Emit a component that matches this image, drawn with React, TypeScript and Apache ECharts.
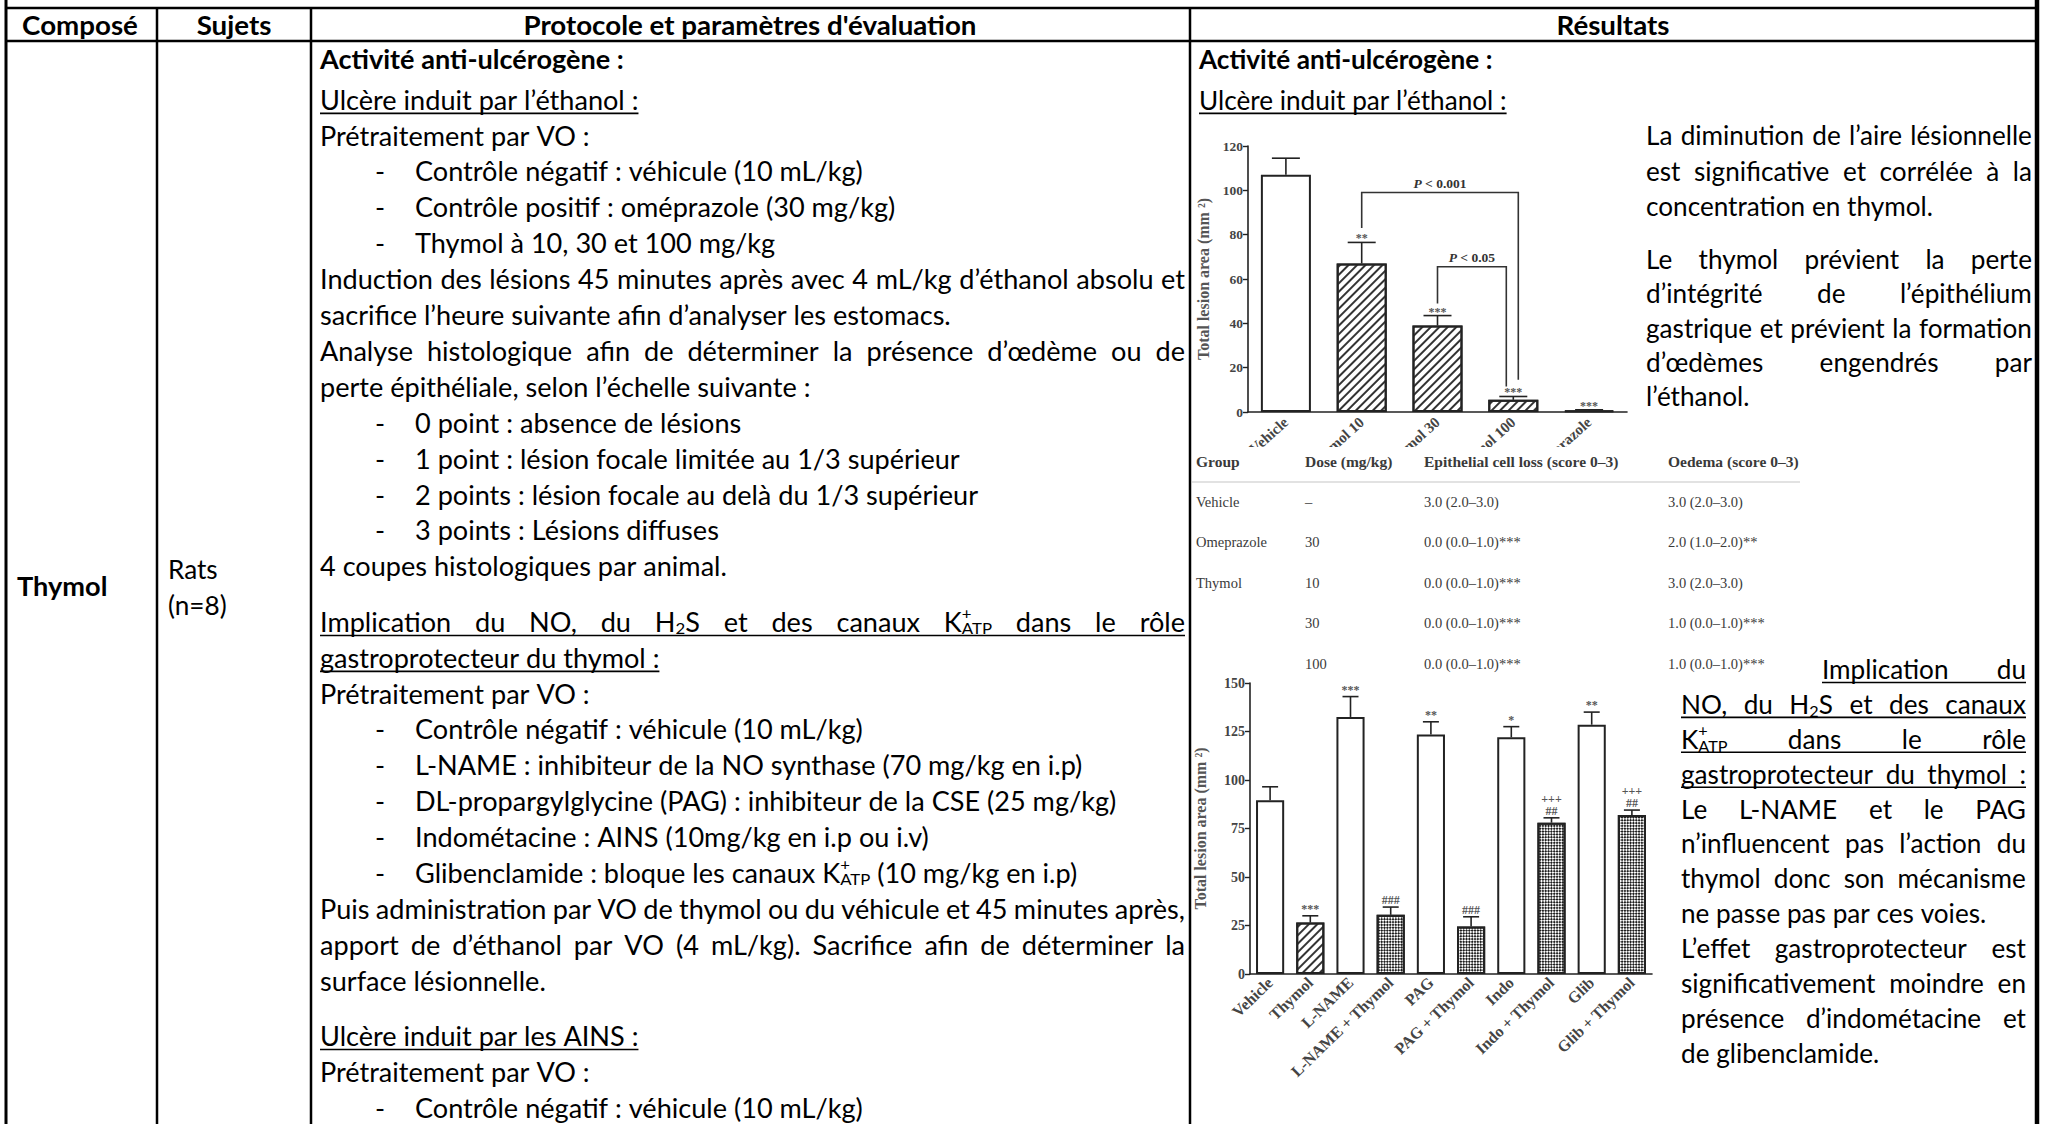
import React, { useEffect, useRef } from 'react';
import * as echarts from 'echarts';

// ---------------- Data ----------------
const ethanolGroups = ['Vehicle', 'Thymol 10', 'Thymol 30', 'Thymol 100', 'Omeprazole'];
const ethanolArea = [107, 67, 39, 5.5, 0.7];
const ethanolErr = [114.5, 76.5, 43.5, 7, 1];
const ethanolSig = ['', '**', '***', '***', '***'];
const ethanolPattern = ['none', 'hatch', 'hatch', 'hatch', 'hatch'];

const bracketFrom = [1, 2];
const bracketTo = [3, 3];
const bracketTop = [99, 65.5];
const bracketLeftEnd = [83, 49];
const bracketRightEnd = [14.5, 11.5];
const bracketLabel = ['0.001', '0.05'];

const ulcerGroups = ['Vehicle', 'Thymol', 'L-NAME', 'L-NAME + Thymol', 'PAG', 'PAG + Thymol', 'Indo', 'Indo + Thymol', 'Glib', 'Glib + Thymol'];
const ulcerArea = [89.5, 26.5, 132.5, 30.5, 123.5, 24.5, 122, 78, 128.5, 82];
const ulcerErr = [96.5, 30, 143, 34.5, 130, 29.5, 127.5, 80.5, 135, 84.5];
const ulcerSig = ['', '***', '***', '###', '**', '###', '*', '##', '**', '##'];
const ulcerSig2 = ['', '', '', '', '', '', '', '+++', '', '+++'];
const ulcerPattern = ['none', 'hatch', 'none', 'check', 'none', 'check', 'none', 'check', 'none', 'check'];

const ethanol120Ticks = { min: 0, max: 120, interval: 20 };
const ulcerTicks = { min: 0, max: 150, interval: 25 };

const tableHeader = ['Group', 'Dose (mg/kg)', 'Epithelial cell loss (score 0–3)', 'Oedema (score 0–3)'];
const tableGroup = ['Vehicle', 'Omeprazole', 'Thymol', '', ''];
const tableDose = ['–', '30', '10', '30', '100'];
const tableEpith = ['3.0 (2.0–3.0)', '0.0 (0.0–1.0)***', '0.0 (0.0–1.0)***', '0.0 (0.0–1.0)***', '0.0 (0.0–1.0)***'];
const tableOedema = ['3.0 (2.0–3.0)', '2.0 (1.0–2.0)**', '3.0 (2.0–3.0)', '1.0 (0.0–1.0)***', '1.0 (0.0–1.0)***'];

const headers = ['Composé', 'Sujets', "Protocole et paramètres d'évaluation", 'Résultats'];

type L = { t: string; b?: number; u?: number; j?: number; li?: number };
const protocolBlock1: L[] = [
  { t: 'Activité anti-ulcérogène :', b: 1 },
  { t: 'Ulcère induit par l’éthanol :', u: 1 },
  { t: 'Prétraitement par VO :' },
  { t: 'Contrôle négatif : véhicule (10 mL/kg)', li: 1 },
  { t: 'Contrôle positif : oméprazole (30 mg/kg)', li: 1 },
  { t: 'Thymol à 10, 30 et 100 mg/kg', li: 1 },
  { t: 'Induction des lésions 45 minutes après avec 4 mL/kg d’éthanol absolu et', j: 1 },
  { t: 'sacrifice l’heure suivante afin d’analyser les estomacs.' },
  { t: 'Analyse histologique afin de déterminer la présence d’œdème ou de', j: 1 },
  { t: 'perte épithéliale, selon l’échelle suivante :' },
  { t: '0 point : absence de lésions', li: 1 },
  { t: '1 point : lésion focale limitée au 1/3 supérieur', li: 1 },
  { t: '2 points : lésion focale au delà du 1/3 supérieur', li: 1 },
  { t: '3 points : Lésions diffuses', li: 1 },
  { t: '4 coupes histologiques par animal.' },
];
const protocolBlock2: L[] = [
  { t: 'Implication du NO, du H_{2}S et des canaux K^{+}_{ATP} dans le rôle', u: 1, j: 1 },
  { t: 'gastroprotecteur du thymol :', u: 1 },
  { t: 'Prétraitement par VO :' },
  { t: 'Contrôle négatif : véhicule (10 mL/kg)', li: 1 },
  { t: 'L-NAME : inhibiteur de la NO synthase (70 mg/kg en i.p)', li: 1 },
  { t: 'DL-propargylglycine (PAG) : inhibiteur de la CSE (25 mg/kg)', li: 1 },
  { t: 'Indométacine : AINS (10mg/kg en i.p ou i.v)', li: 1 },
  { t: 'Glibenclamide : bloque les canaux K^{+}_{ATP} (10 mg/kg en i.p)', li: 1 },
  { t: 'Puis administration par VO de thymol ou du véhicule et 45 minutes après,', j: 1 },
  { t: 'apport de d’éthanol par VO (4 mL/kg). Sacrifice afin de déterminer la', j: 1 },
  { t: 'surface lésionnelle.' },
];
const protocolBlock3: L[] = [
  { t: 'Ulcère induit par les AINS :', u: 1 },
  { t: 'Prétraitement par VO :' },
  { t: 'Contrôle négatif : véhicule (10 mL/kg)', li: 1 },
];
const resultsHead: L[] = [
  { t: 'Activité anti-ulcérogène :', b: 1 },
  { t: 'Ulcère induit par l’éthanol :', u: 1 },
];
const resultsPara1: L[] = [
  { t: 'La diminution de l’aire lésionnelle', j: 1 },
  { t: 'est significative et corrélée à la', j: 1 },
  { t: 'concentration en thymol.' },
];
const resultsPara2: L[] = [
  { t: 'Le thymol prévient la perte', j: 1 },
  { t: 'd’intégrité de l’épithélium', j: 1 },
  { t: 'gastrique et prévient la formation', j: 1 },
  { t: 'd’œdèmes engendrés par', j: 1 },
  { t: 'l’éthanol.' },
];
const resultsPara3: L[] = [
  { t: 'Implication du', u: 1, j: 1 },
  { t: 'NO, du H_{2}S et des canaux', u: 1, j: 1 },
  { t: 'K^{+}_{ATP} dans le rôle', u: 1, j: 1 },
  { t: 'gastroprotecteur du thymol :', u: 1, j: 1 },
  { t: 'Le L-NAME et le PAG', j: 1 },
  { t: 'n’influencent pas l’action du', j: 1 },
  { t: 'thymol donc son mécanisme', j: 1 },
  { t: 'ne passe pas par ces voies.' },
  { t: 'L’effet gastroprotecteur est', j: 1 },
  { t: 'significativement moindre en', j: 1 },
  { t: 'présence d’indométacine et', j: 1 },
  { t: 'de glibenclamide.' },
];

// ---------------- Layout helpers ----------------
const FONT = 'Lato';
const SERIF = '"Liberation Serif", "Times New Roman", serif';
const SIZE = 26;

let _ctx: CanvasRenderingContext2D | null = null;
function tw(text: string, size: number, bold?: boolean) {
  if (!_ctx) _ctx = document.createElement('canvas').getContext('2d');
  _ctx!.font = `${bold ? 'bold ' : ''}${size}px ${FONT}`;
  return _ctx!.measureText(text).width;
}

function parseWord(w: string) {
  const segs: { t: string; k: string }[] = [];
  w.split(/(\^\{[^}]*\}|_\{[^}]*\})/).filter(Boolean).forEach((p) => {
    if (p.startsWith('^{')) segs.push({ t: p.slice(2, -1), k: 'sup' });
    else if (p.startsWith('_{')) segs.push({ t: p.slice(2, -1), k: 'sub' });
    else segs.push({ t: p, k: 'n' });
  });
  return segs;
}

function layoutWord(w: string, size: number, bold?: boolean) {
  const segs = parseWord(w);
  let x = 0;
  let supStart = 0;
  let prev = '';
  const items: { t: string; k: string; dx: number; fs: number }[] = [];
  segs.forEach((s) => {
    const fs = s.k === 'n' ? size : size * 0.62;
    const wd = tw(s.t, fs, bold);
    const dx = s.k === 'sub' && prev === 'sup' ? supStart : x;
    if (s.k === 'sup') supStart = dx;
    items.push({ t: s.t, k: s.k, dx, fs });
    x = Math.max(x, dx + wd);
    prev = s.k;
  });
  return { items, w: x };
}

function textEl(text: string, x: number, y: number, fs: number, opts: any = {}) {
  return {
    type: 'text',
    x,
    y,
    scaleX: opts.scaleX ?? 1,
    z: opts.z ?? 40,
    silent: true,
    style: {
      text,
      fontSize: fs,
      fontFamily: opts.family ?? FONT,
      fontWeight: opts.bold ? 'bold' : 'normal',
      fill: opts.color ?? '#000',
      textAlign: opts.align ?? 'left',
      align: opts.align ?? 'left',
      textVerticalAlign: 'middle',
      verticalAlign: 'middle',
    },
  };
}

function renderLine(line: L, x0: number, x1: number, y: number, s: number, out: any[]) {
  const bold = !!line.b;
  const words = line.t.split(' ').map((w) => layoutWord(w, SIZE, bold));
  const space = tw(' ', SIZE, bold) * s;
  const total = words.reduce((a, w) => a + w.w * s, 0);
  let gap = space;
  let sc = s;
  if (line.j && words.length > 1) {
    gap = (x1 - x0 - total) / (words.length - 1);
    if (gap < space * 0.6) {
      sc = s * ((x1 - x0) / (total + space * (words.length - 1)));
      gap = space * (sc / s);
    }
  }
  let x = x0;
  words.forEach((w, wi) => {
    w.items.forEach((it) => {
      const yy = it.k === 'sup' ? y - SIZE * 0.34 : it.k === 'sub' ? y + SIZE * 0.24 : y;
      out.push(textEl(it.t, x + it.dx * sc, yy, it.fs, { scaleX: sc, bold }));
    });
    x += w.w * sc + (wi < words.length - 1 ? gap : 0);
  });
  if (line.u) {
    out.push({
      type: 'line', z: 40, silent: true,
      shape: { x1: x0, y1: y + SIZE * 0.52, x2: x, y2: y + SIZE * 0.52 },
      style: { stroke: '#000', lineWidth: 1.6 },
    });
  }
}

function renderBlock(lines: L[], x0: number, x1: number, y0: number, pitch: number, s: number, out: any[], firstShift = 0) {
  lines.forEach((ln, i) => {
    const y = y0 + i * pitch + (i === 0 ? firstShift : 0);
    if (ln.li) {
      out.push(textEl('-', 375, y, SIZE, { scaleX: s }));
      renderLine(ln, 415, x1, y, s, out);
    } else {
      renderLine(ln, x0, x1, y, s, out);
    }
  });
}

const hatchDecal = {
  symbol: 'rect', symbolSize: 1, dashArrayX: [1, 0], dashArrayY: [1.5, 3.4],
  rotation: -Math.PI / 4, color: '#333',
};
const checkDecal = {
  symbol: 'rect', symbolSize: 1, dashArrayX: [[2, 2], [0, 2, 2, 0]], dashArrayY: [2, 0],
  rotation: Math.PI / 4, color: '#1e1e1e',
};
function barItems(vals: number[], pats: string[]) {
  return vals.map((v, i) => ({
    value: v,
    itemStyle: {
      color: '#fff', borderColor: '#222', borderWidth: 2,
      decal: pats[i] === 'hatch' ? hatchDecal : pats[i] === 'check' ? checkDecal : undefined,
    },
  }));
}

function errSeries(ax: number, vals: number[], errs: number[], sigA: string[], sigB: string[], capW: number, fs: number, offA: number, offB: number) {
  return {
    type: 'custom', xAxisIndex: ax, yAxisIndex: ax, z: 5,
    data: vals.map((v, i) => [i, v, errs[i]]),
    encode: { x: 0, y: [1, 2] },
    renderItem: (params: any, api: any) => {
      const i = api.value(0), v = api.value(1), e = api.value(2);
      const a = api.coord([i, v]);
      const b = api.coord([i, e]);
      const st = { stroke: '#222', lineWidth: 1.6 };
      const ch: any[] = [
        { type: 'line', shape: { x1: a[0], y1: a[1], x2: b[0], y2: b[1] }, style: st },
        { type: 'line', shape: { x1: b[0] - capW / 2, y1: b[1], x2: b[0] + capW / 2, y2: b[1] }, style: st },
      ];
      const tst = (t: string) => ({
        text: t, fontSize: fs, fontFamily: SERIF, fontWeight: 'bold', fill: '#555',
        align: 'center', verticalAlign: 'middle', textAlign: 'center', textVerticalAlign: 'middle',
      });
      const sa = sigA[params.dataIndex];
      const sb = sigB[params.dataIndex];
      if (sa) ch.push({ type: 'text', x: b[0], y: b[1] - offA, style: tst(sa) });
      if (sb) ch.push({ type: 'text', x: b[0], y: b[1] - offB, style: tst(sb) });
      return { type: 'group', children: ch };
    },
  };
}

const bracketOffset = [5, -7];

function buildOption() {
  const els: any[] = [];
  const sProt = 858 / tw('Induction des lésions 45 minutes après avec 4 mL/kg d’éthanol absolu et', SIZE);
  const sRes = 380 / tw('La diminution de l’aire lésionnelle', SIZE);
  const sHead = 453 / tw(headers[2], SIZE, true);

  // table frame
  const ln = (x1: number, y1: number, x2: number, y2: number, w: number) => els.push({
    type: 'line', z: 45, silent: true, shape: { x1, y1, x2, y2 }, style: { stroke: '#000', lineWidth: w },
  });
  ln(6, 0, 6, 1124, 3);
  ln(2037, 0, 2037, 1124, 4.5);
  ln(6, 8, 2037, 8, 2.5);
  ln(6, 41, 2037, 41, 2.5);
  ln(157, 8, 157, 1124, 2.5);
  ln(311, 8, 311, 1124, 2.5);
  ln(1190, 8, 1190, 1124, 2.5);

  // headers
  const centers = [80, 234, 750, 1613];
  headers.forEach((h, i) => {
    const w = tw(h, SIZE, true) * sHead;
    els.push(textEl(h, centers[i] - w / 2, 24.5, SIZE, { bold: true, scaleX: sHead }));
  });

  // left columns
  els.push(textEl('Thymol', 17, 586, SIZE + 1, { bold: true, scaleX: sRes }));
  els.push(textEl('Rats', 168, 569, SIZE, { scaleX: sRes }));
  els.push(textEl('(n=8)', 168, 605, SIZE, { scaleX: sRes }));

  // protocol column
  renderBlock(protocolBlock1, 320, 1185, 64, 35.9, sProt, els, -5);
  renderBlock(protocolBlock2, 320, 1185, 622, 35.9, sProt, els);
  renderBlock(protocolBlock3, 320, 1185, 1036, 35.9, sProt, els);

  // results column
  renderBlock(resultsHead, 1199, 1640, 64, 35.9, sRes, els, -5);
  renderBlock(resultsPara1, 1646, 2032, 135, 35.6, sRes, els);
  renderBlock(resultsPara2, 1646, 2032, 259, 34.3, sRes, els);
  renderLine(resultsPara3[0], 1822, 2026, 669, sRes, els);
  renderBlock(resultsPara3.slice(1), 1681, 2026, 703.9, 34.9, sRes, els);

  // small histology table (covers clipped axis labels)
  els.push({ type: 'rect', z: 30, silent: true, shape: { x: 1192, y: 447, width: 450, height: 36 }, style: { fill: '#fff' } });
  const tx = [1196, 1305, 1424, 1668];
  tableHeader.forEach((h, i) => els.push(textEl(h, tx[i], 461, 15.5, { family: SERIF, bold: true, color: '#3a3a3a' })));
  els.push({ type: 'line', z: 40, silent: true, shape: { x1: 1192, y1: 482, x2: 1800, y2: 482 }, style: { stroke: '#e2e2e2', lineWidth: 2 } });
  const rowY = [502, 542, 582.5, 623, 663.5];
  rowY.forEach((y, r) => {
    [tableGroup[r], tableDose[r], tableEpith[r], tableOedema[r]].forEach((t, c) => {
      if (t) els.push(textEl(t, tx[c], y, 14.5, { family: SERIF, color: '#3a3a3a' }));
    });
  });

  const axisLbl = { fontFamily: SERIF, fontWeight: 'bold', color: '#444', fontSize: 15 };
  const axisLine = { lineStyle: { color: '#222', width: 1.6 } };

  return {
    animation: false,
    grid: [
      { left: 1248, top: 146, width: 379, height: 266 },
      { left: 1250, top: 683, width: 402, height: 291 },
    ],
    xAxis: [
      { type: 'category', gridIndex: 0, data: ethanolGroups, axisLine, axisTick: { show: false },
        axisLabel: { ...axisLbl, rotate: 42, margin: 8 } },
      { type: 'category', gridIndex: 1, data: ulcerGroups, axisLine, axisTick: { show: false },
        axisLabel: { ...axisLbl, fontSize: 16, rotate: 44, margin: 6, interval: 0 } },
    ],
    yAxis: [
      { type: 'value', gridIndex: 0, ...ethanol120Ticks, axisLine: { show: true, ...axisLine },
        axisTick: { show: true, length: 5, lineStyle: { color: '#222', width: 1.4 } }, splitLine: { show: false },
        axisLabel: { ...axisLbl, fontSize: 13.5, margin: 5 },
        name: 'Total lesion area (mm ²)', nameLocation: 'middle', nameGap: 37, nameRotate: 90,
        nameTextStyle: { fontFamily: SERIF, fontSize: 16, color: '#555', fontWeight: 'bold' } },
      { type: 'value', gridIndex: 1, ...ulcerTicks, axisLine: { show: true, ...axisLine },
        axisTick: { show: true, length: 5, lineStyle: { color: '#222', width: 1.4 } }, splitLine: { show: false },
        axisLabel: { ...axisLbl, fontSize: 14, margin: 5 },
        name: 'Total lesion area (mm ²)', nameLocation: 'middle', nameGap: 42, nameRotate: 90,
        nameTextStyle: { fontFamily: SERIF, fontSize: 16, color: '#555', fontWeight: 'bold' } },
    ],
    series: [
      { type: 'bar', xAxisIndex: 0, yAxisIndex: 0, barWidth: '66%', data: barItems(ethanolArea, ethanolPattern), z: 3 },
      errSeries(0, ethanolArea, ethanolErr, ethanolSig, ethanolSig.map(() => ''), 28, 12, 4, 0),
      {
        type: 'custom', xAxisIndex: 0, yAxisIndex: 0, z: 6,
        data: bracketFrom.map((f, i) => [f, bracketTop[i], bracketTo[i]]),
        encode: { x: 0, y: 1 },
        renderItem: (params: any, api: any) => {
          const k = params.dataIndex;
          const l = api.coord([bracketFrom[k], bracketTop[k]]);
          const r = api.coord([bracketTo[k], bracketTop[k]]);
          const lb = api.coord([bracketFrom[k], bracketLeftEnd[k]]);
          const rb = api.coord([bracketTo[k], bracketRightEnd[k]]);
          const rx = r[0] + bracketOffset[k];
          return {
            type: 'group',
            children: [
              { type: 'polyline', shape: { points: [[l[0], lb[1]], [l[0], l[1]], [rx, l[1]], [rx, rb[1]]] },
                style: { stroke: '#333', lineWidth: 1.6, fill: 'none' } },
              { type: 'text', x: (l[0] + rx) / 2, y: l[1] - 9,
                style: { text: '{i|P} < ' + bracketLabel[k], fontSize: 13.5, fontFamily: SERIF, fontWeight: 'bold', fill: '#333',
                  align: 'center', verticalAlign: 'middle', textAlign: 'center', textVerticalAlign: 'middle',
                  rich: { i: { fontStyle: 'italic', fontSize: 13.5, fontFamily: SERIF, fontWeight: 'bold', fill: '#333' } } } },
            ],
          };
        },
      },
      { type: 'bar', xAxisIndex: 1, yAxisIndex: 1, barWidth: '70%', data: barItems(ulcerArea, ulcerPattern), z: 3 },
      errSeries(1, ulcerArea, ulcerErr, ulcerSig, ulcerSig2, 16, 12, 7, 19),
    ],
    graphic: els,
  };
}

export default function App() {
  const ref = useRef<HTMLDivElement>(null);
  useEffect(() => {
    if (!ref.current) return;
    const chart = echarts.init(ref.current, undefined, { renderer: 'svg' });
    chart.setOption(buildOption() as any);
    return () => chart.dispose();
  }, []);
  return (
    <div
      ref={ref}
      style={{ position: 'absolute', left: 0, top: 0, width: 2048, height: 1124, background: '#fff' }}
    />
  );
}
